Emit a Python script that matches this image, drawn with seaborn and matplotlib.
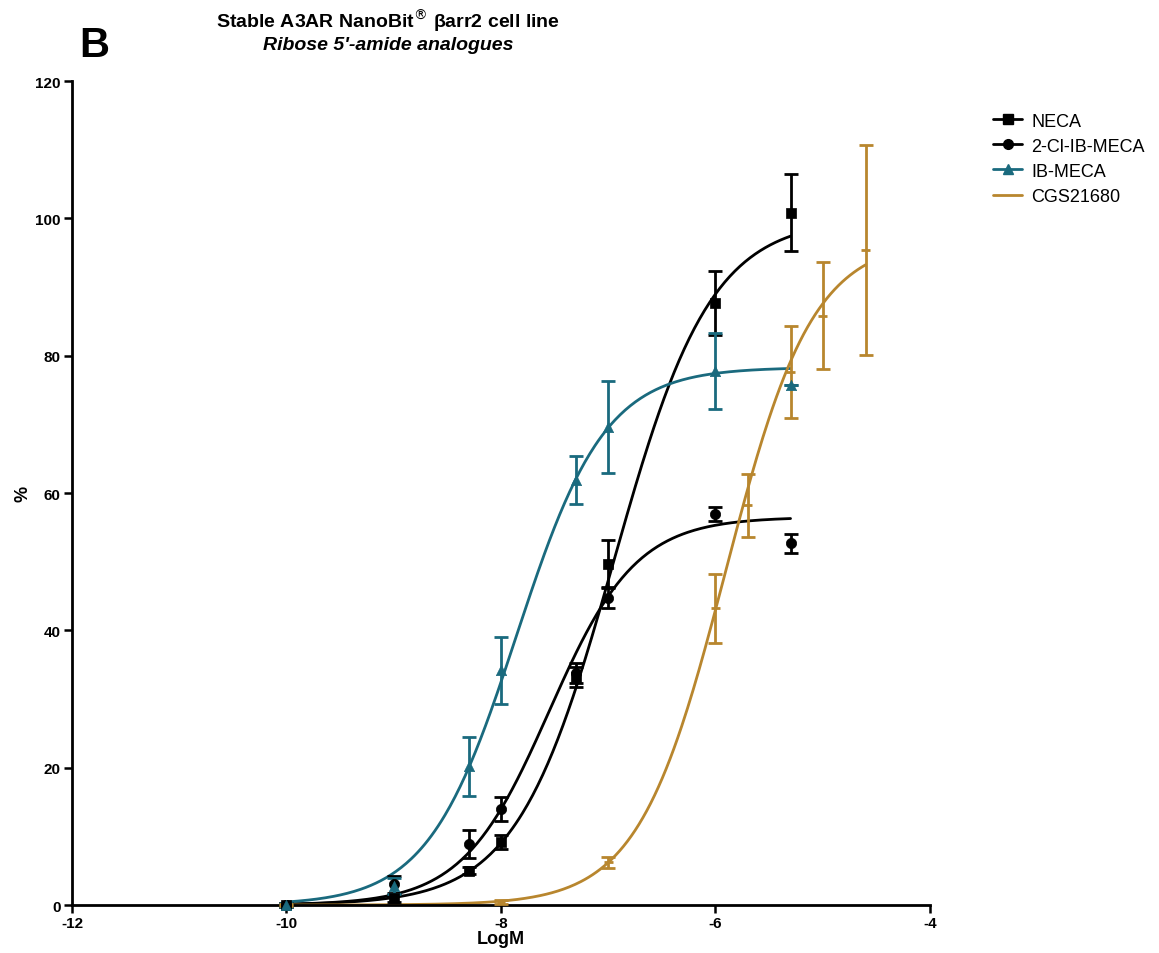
import numpy as np
import pandas as pd
import matplotlib
matplotlib.use("Agg")
import matplotlib.pyplot as plt
import seaborn as sns
from matplotlib.lines import Line2D

# ---- data ----
neca_x = [-10, -9, -8.3, -8, -7.3, -7, -6, -5.3]
neca_y = [0, 1.0, 5.0, 9.2, 33.2, 49.7, 87.7, 100.8]
neca_e = [0.3, 0.5, 0.5, 1.0, 1.5, 3.4, 4.7, 5.6]

clib_x = [-10, -9, -8.3, -8, -7.3, -7, -6, -5.3]
clib_y = [0, 3.0, 8.9, 14.0, 33.8, 44.7, 56.9, 52.7]
clib_e = [0.3, 1.2, 2.0, 1.8, 1.5, 1.5, 1.0, 1.4]

ib_x = [-10, -9, -8.3, -8, -7.3, -7, -6, -5.3]
ib_y = [0, 2.8, 20.2, 34.2, 61.9, 69.6, 77.8, 75.7]
ib_e = [0.3, 1.2, 4.3, 4.9, 3.5, 6.7, 5.5, 0.0]

cgs_x = [-10, -8, -7, -6, -5.7, -5.3, -5, -4.6]
cgs_y = [0, 0.5, 6.2, 43.2, 58.2, 77.6, 85.8, 95.4]
cgs_e = [0.2, 0.3, 0.8, 5.0, 4.6, 6.7, 7.8, 15.3]

# fitted 4-parameter logistic curves: bottom, top, logEC50, hill, x-range
fit_names = ["NECA", "2-Cl-IB-MECA", "IB-MECA", "CGS21680"]
fit_bottom = [0, 0, 0, 0]
fit_top = [100, 56.5, 78.3, 97]
fit_logec50 = [-6.95, -7.55, -7.857, -5.907]
fit_hill = [0.955, 1.075, 1.048, 1.067]
fit_xmin = [-10, -10, -10, -10]
fit_xmax = [-5.3, -5.3, -5.3, -4.6]

x_ticks = [-12, -10, -8, -6, -4]
y_ticks = [0, 20, 40, 60, 80, 100, 120]

black = "#000000"
teal = "#1a6a7e"
gold = "#b8862e"
colors = [black, black, teal, gold]
markers = ["s", "o", "^", None]

sns.set_style("ticks")
plt.rcParams["font.family"] = ["Liberation Sans", "DejaVu Sans"]
plt.rcParams["text.color"] = "black"
plt.rcParams["axes.labelcolor"] = "black"
plt.rcParams["xtick.color"] = "black"
plt.rcParams["ytick.color"] = "black"
plt.rcParams["axes.edgecolor"] = "black"

fig = plt.figure(figsize=(11.59, 9.54), dpi=100)
ax = fig.add_axes([0.0621, 0.0503, 0.7403, 0.8637])

# curves
rows = []
for i, name in enumerate(fit_names):
    xs = np.linspace(fit_xmin[i], fit_xmax[i], 300)
    ys = fit_bottom[i] + (fit_top[i] - fit_bottom[i]) / (1 + 10 ** ((fit_logec50[i] - xs) * fit_hill[i]))
    rows.append(pd.DataFrame({"x": xs, "y": ys, "name": name}))
curves = pd.concat(rows)
sns.lineplot(data=curves, x="x", y="y", hue="name", palette=dict(zip(fit_names, colors)),
             hue_order=fit_names, ax=ax, linewidth=2, legend=False, sort=False, estimator=None)

series = [(neca_x, neca_y, neca_e), (clib_x, clib_y, clib_e), (ib_x, ib_y, ib_e), (cgs_x, cgs_y, cgs_e)]
for i, (xv, yv, ev) in enumerate(series):
    ax.errorbar(xv, yv, yerr=ev, fmt="none", ecolor=colors[i], elinewidth=2, capsize=5,
                capthick=2, clip_on=False, zorder=3)
    if markers[i] is not None:
        sns.scatterplot(x=xv, y=yv, marker=markers[i], color=colors[i], s=55, edgecolor=colors[i],
                        linewidth=0.5, ax=ax, zorder=4, clip_on=False, legend=False)
    else:
        ax.errorbar(xv, yv, xerr=0.04, fmt="none", ecolor=colors[i], elinewidth=2, capsize=0, zorder=3)

ax.set_xlim(-12, -4)
ax.set_ylim(0, 120)
ax.set_xticks(x_ticks)
ax.set_yticks(y_ticks)
ax.set_xticklabels([str(t) for t in x_ticks], fontsize=11, fontweight="bold")
ax.set_yticklabels([str(t) for t in y_ticks], fontsize=11, fontweight="bold")
ax.tick_params(width=1.8, length=6, direction="out", pad=2, colors="black")
for s in ["left", "bottom"]:
    ax.spines[s].set_linewidth(2)
    ax.spines[s].set_color("black")
sns.despine(ax=ax)
ax.set_xlabel("LogM", fontsize=13, fontweight="bold", labelpad=0)
ax.set_ylabel("%", fontsize=13, fontweight="bold")
ax.yaxis.set_label_coords(-0.047, 0.5)

fig.text(0.335, 0.978, "Stable A3AR NanoBit$^{\\circledR}$ \u03b2arr2 cell line", ha="center", va="center",
         fontsize=14, fontweight="bold")
fig.text(0.335, 0.952, "Ribose 5'-amide analogues", ha="center", va="center",
         fontsize=14, fontweight="bold", style="italic")
fig.text(0.068, 0.952, "B", ha="left", va="center", fontsize=30, fontweight="bold")

handles = []
for i, name in enumerate(fit_names):
    handles.append(Line2D([0], [0], color=colors[i], lw=2, marker=markers[i] if markers[i] else None,
                          markersize=7))
fig.legend(handles, fit_names, loc="upper left", bbox_to_anchor=(0.843, 0.898), frameon=False,
           fontsize=13, handlelength=1.6, handletextpad=0.5, labelspacing=0.45)

fig.savefig("out.png", dpi=100)
